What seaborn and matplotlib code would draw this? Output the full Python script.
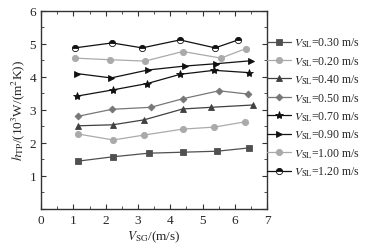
import numpy as np
import pandas as pd
import matplotlib
matplotlib.use("Agg")
import matplotlib.pyplot as plt
from matplotlib.ticker import MultipleLocator
import seaborn as sns

# data
v_sl = ['0.30', '0.20', '0.40', '0.50', '0.70', '0.90', '1.00', '1.20']
x_030 = [1.15, 2.22, 3.33, 4.39, 5.45, 6.44]
y_030 = [1.45, 1.58, 1.69, 1.72, 1.75, 1.85]
x_020 = [1.15, 2.24, 3.19, 4.39, 5.36, 6.32]
y_020 = [2.27, 2.09, 2.24, 2.42, 2.48, 2.64]
x_040 = [1.15, 2.22, 3.19, 4.39, 5.27, 6.56]
y_040 = [2.52, 2.55, 2.70, 3.03, 3.08, 3.15]
x_050 = [1.15, 2.20, 3.40, 4.39, 5.51, 6.41]
y_050 = [2.81, 3.02, 3.08, 3.34, 3.58, 3.48]
x_070 = [1.12, 2.24, 3.29, 4.31, 5.36, 6.44]
y_070 = [3.42, 3.61, 3.80, 4.08, 4.20, 4.13]
x_090 = [1.12, 2.17, 3.31, 4.46, 5.42, 6.50]
y_090 = [4.10, 3.97, 4.21, 4.33, 4.40, 4.49]
x_100 = [1.05, 2.14, 3.22, 4.39, 5.57, 6.35]
y_100 = [4.57, 4.52, 4.48, 4.77, 4.57, 4.86]
x_120 = [1.05, 2.20, 3.13, 4.30, 5.39, 6.10]
y_120 = [4.88, 5.03, 4.88, 5.12, 4.88, 5.12]

xs = [x_030, x_020, x_040, x_050, x_070, x_090, x_100, x_120]
ys = [y_030, y_020, y_040, y_050, y_070, y_090, y_100, y_120]

colors = ['#505050', '#aaaaaa', '#404040', '#777777', '#111111', '#111111', '#aaaaaa', '#111111']
markers = ['s', 'o', '^', 'D', '*', '>', 'o', 'o']
msizes = [4, 4.5, 4.5, 3.5, 6, 5, 4.5, 4.5]

rows = []
for lab, xv, yv in zip(v_sl, xs, ys):
    for a, b in zip(xv, yv):
        rows.append({'vsl': lab, 'vsg': a, 'h': b})
df = pd.DataFrame(rows)

sns.set_theme(style='ticks')
plt.rcParams['font.family'] = ['Liberation Serif', 'DejaVu Serif']
plt.rcParams['mathtext.fontset'] = 'stix'

fig = plt.figure(figsize=(3.7, 2.53), dpi=100)
ax = fig.add_axes([0.111, 0.17, 0.611, 0.783])

for i, lab in enumerate(v_sl):
    sub = df[df['vsl'] == lab]
    kw = dict(marker=markers[i], markersize=msizes[i], markeredgewidth=0.6,
              markeredgecolor=colors[i], markerfacecolor=colors[i])
    if i == 7:
        kw.update(fillstyle='top', markerfacecoloralt='white')
    sns.lineplot(data=sub, x='vsg', y='h', ax=ax, color=colors[i], lw=0.9,
                 label='$V_{\\rm SL}$=' + lab + ' m/s', **kw)

ax.set_xlim(0, 7)
ax.set_ylim(0, 6)
ax.xaxis.set_major_locator(MultipleLocator(1))
ax.xaxis.set_minor_locator(MultipleLocator(0.5))
ax.yaxis.set_major_locator(MultipleLocator(1))
ax.yaxis.set_minor_locator(MultipleLocator(0.5))
ax.tick_params(which='both', direction='in', top=True, right=True,
               labeltop=False, labelright=False, labelsize=9.5, color='#333333')
ax.tick_params(which='major', length=3.5, width=0.8)
ax.tick_params(which='minor', length=2, width=0.6)
ax.set_yticks([0, 1, 2, 3, 4, 5, 6])
ax.set_yticklabels(['', '1', '2', '3', '4', '5', '6'])
for s in ax.spines.values():
    s.set_linewidth(1.0)
    s.set_color('#333333')

ax.set_xlabel('$V_{\\rm SG}$/(m/s)', fontsize=9.5, labelpad=2)
ax.set_ylabel('$h_{\\rm TP}$/(10$^3$W/(m$^2$K))', fontsize=9.5, labelpad=2)

leg = ax.legend(loc='upper left', bbox_to_anchor=(0.722, 0.855),
                bbox_transform=fig.transFigure, frameon=False, fontsize=8.5,
                handlelength=2.0, handletextpad=0.3, labelspacing=0.42,
                borderaxespad=0, borderpad=0)

fig.savefig('out.png', dpi=100)
